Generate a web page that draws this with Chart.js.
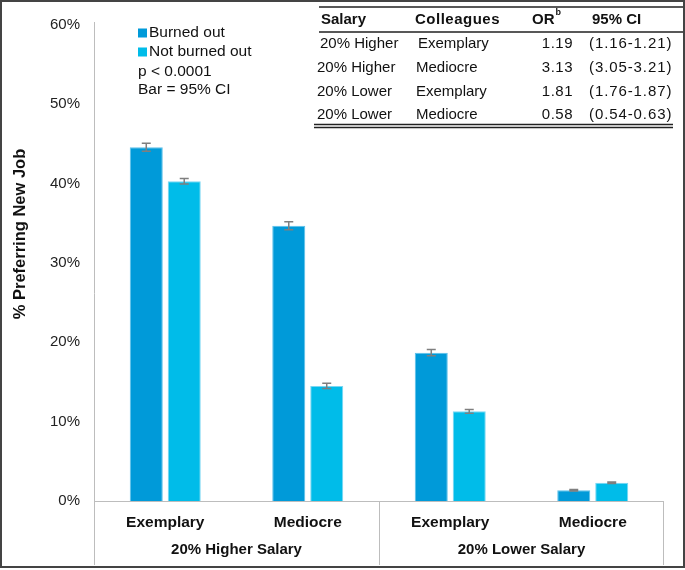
<!DOCTYPE html>
<html>
<head>
<meta charset="utf-8">
<script src="https://cdn.jsdelivr.net/npm/chart.js@4.4.1/dist/chart.umd.min.js"></script>
<style>
  html, body { margin: 0; padding: 0; background: #fff; }
  #wrap { width: 685px; height: 570px; }
</style>
</head>
<body>
<div id="wrap"><canvas id="chart" width="685" height="570"></canvas></div>
<script>
// Data
const categories = ['Exemplary', 'Mediocre', 'Exemplary', 'Mediocre'];
const groupLabels = ['20% Higher Salary', '20% Lower Salary'];
const seriesNames = ['Burned out', 'Not burned out'];
const burnedOut = [44.6, 34.7, 18.7, 1.35];
const notBurnedOut = [40.3, 14.5, 11.3, 2.3];
const burnedOutLow = [44.1, 34.2, 18.3, 1.25];
const burnedOutHigh = [45.1, 35.2, 19.1, 1.45];
const notBurnedOutLow = [39.95, 14.17, 11.07, 2.2];
const notBurnedOutHigh = [40.65, 14.83, 11.53, 2.4];
const yTicks = [0, 10, 20, 30, 40, 50, 60];
const notes = ['p < 0.0001', 'Bar = 95% CI'];

// inset table
const tableHeader = ['Salary', 'Colleagues', 'OR', '95% CI'];
const tableSalary = ['20% Higher', '20% Higher', '20% Lower', '20% Lower'];
const tableColleagues = ['Exemplary', 'Mediocre', 'Exemplary', 'Mediocre'];
const tableOR = ['1.19', '3.13', '1.81', '0.58'];
const tableCI = ['(1.16-1.21)', '(3.05-3.21)', '(1.76-1.87)', '(0.54-0.63)'];

const FONT = '"Liberation Sans", Arial, sans-serif';
const darkBlue = '#009ad9';
const lightBlue = '#00bce9';
const axisGrey = '#bdbdbd';

const errorBars = [
    { low: burnedOutLow, high: burnedOutHigh },
    { low: notBurnedOutLow, high: notBurnedOutHigh }
];

const decorPlugin = {
    id: 'decor',
    afterDraw(chart) {
        const ctx = chart.ctx;
        const area = chart.chartArea;
        const x = chart.scales.x;
        const y = chart.scales.y;
        const bottom = 565;

        ctx.save();

        // axes and group dividers
        ctx.strokeStyle = axisGrey;
        ctx.lineWidth = 1;
        ctx.beginPath();
        ctx.moveTo(area.left + 0.5, area.top - 3);
        ctx.lineTo(area.left + 0.5, bottom);
        ctx.moveTo(area.left, y.getPixelForValue(0) + 0.5);
        ctx.lineTo(area.right, y.getPixelForValue(0) + 0.5);
        const mid = (x.getPixelForValue(1) + x.getPixelForValue(2)) / 2;
        ctx.moveTo(Math.round(mid) + 0.5, y.getPixelForValue(0));
        ctx.lineTo(Math.round(mid) + 0.5, bottom);
        ctx.moveTo(area.right - 0.5, y.getPixelForValue(0));
        ctx.lineTo(area.right - 0.5, bottom);
        ctx.stroke();

        // error bars
        ctx.strokeStyle = '#7f7f7f';
        ctx.lineWidth = 1.5;
        errorBars.forEach((eb, di) => {
            const meta = chart.getDatasetMeta(di);
            meta.data.forEach((bar, i) => {
                const yl = y.getPixelForValue(eb.low[i]);
                const yh = y.getPixelForValue(eb.high[i]);
                ctx.beginPath();
                ctx.moveTo(bar.x, yl);
                ctx.lineTo(bar.x, yh);
                ctx.moveTo(bar.x - 4.5, yl);
                ctx.lineTo(bar.x + 4.5, yl);
                ctx.moveTo(bar.x - 4.5, yh);
                ctx.lineTo(bar.x + 4.5, yh);
                ctx.stroke();
            });
        });

        // group labels
        ctx.fillStyle = '#111';
        ctx.font = 'bold 15px ' + FONT;
        ctx.textAlign = 'center';
        ctx.textBaseline = 'middle';
        groupLabels.forEach((g, gi) => {
            const cx = (x.getPixelForValue(gi * 2) + x.getPixelForValue(gi * 2 + 1)) / 2;
            ctx.fillText(g, cx, 550);
        });

        // y title
        ctx.save();
        ctx.translate(20, 234);
        ctx.rotate(-Math.PI / 2);
        ctx.font = 'bold 16.5px ' + FONT;
        ctx.fillText('% Preferring New Job', 0, 0);
        ctx.restore();

        // legend and notes
        ctx.textAlign = 'left';
        ctx.font = '15.5px ' + FONT;
        const colors = [darkBlue, lightBlue];
        seriesNames.forEach((name, i) => {
            const ly = 33 + i * 19;
            ctx.fillStyle = colors[i];
            ctx.fillRect(138, ly - 4.5, 9, 9);
            ctx.fillStyle = '#111';
            ctx.fillText(name, 149, ly);
        });
        notes.forEach((t, i) => ctx.fillText(t, 138, 72 + i * 17.5));

        // inset table
        ctx.strokeStyle = '#222';
        ctx.lineWidth = 1.5;
        ctx.beginPath();
        ctx.moveTo(319, 7); ctx.lineTo(684, 7);
        ctx.moveTo(319, 32); ctx.lineTo(684, 32);
        ctx.moveTo(314, 124.5); ctx.lineTo(673, 124.5);
        ctx.moveTo(314, 127.5); ctx.lineTo(673, 127.5);
        ctx.stroke();

        ctx.font = 'bold 15px ' + FONT;
        ctx.fillStyle = '#111';
        ctx.fillText(tableHeader[0], 321, 20);
        ctx.letterSpacing = '0.5px';
        ctx.fillText(tableHeader[1], 415, 20);
        ctx.letterSpacing = '0px';
        ctx.fillText(tableHeader[2], 532, 20);
        const orW = ctx.measureText(tableHeader[2]).width;
        ctx.fillText(tableHeader[3], 592, 20);
        ctx.font = 'bold 9px ' + FONT;
        ctx.fillText('b', 532 + orW + 1, 13);

        ctx.font = '15px ' + FONT;
        const rowY = [44, 68, 92, 115];
        tableSalary.forEach((s, i) => {
            ctx.textAlign = 'left';
            ctx.letterSpacing = '0px';
            ctx.fillText(s, i === 0 ? 320 : 317, rowY[i]);
            ctx.fillText(tableColleagues[i], i === 0 ? 418 : 416, rowY[i]);
            ctx.textAlign = 'right';
            ctx.letterSpacing = '0.5px';
            ctx.fillText(tableOR[i], 573, rowY[i]);
            ctx.textAlign = 'left';
            ctx.letterSpacing = '0.9px';
            ctx.fillText(tableCI[i], 589, rowY[i]);
        });
        ctx.letterSpacing = '0px';

        // outer frame
        ctx.strokeStyle = '#444';
        ctx.lineWidth = 2;
        ctx.strokeRect(1, 1, 683, 566);

        ctx.restore();
    }
};

new Chart(document.getElementById('chart'), {
    type: 'bar',
    data: {
        labels: categories,
        datasets: [
            {
                label: seriesNames[0],
                data: burnedOut,
                backgroundColor: darkBlue,
                borderColor: '#5cc0ea',
                borderWidth: 1,
                categoryPercentage: 0.533,
                barPercentage: 0.87
            },
            {
                label: seriesNames[1],
                data: notBurnedOut,
                backgroundColor: lightBlue,
                borderColor: '#7ad6f2',
                borderWidth: 1,
                categoryPercentage: 0.533,
                barPercentage: 0.87
            }
        ]
    },
    options: {
        responsive: false,
        animation: false,
        layout: { padding: { top: 25, right: 21, left: 0, bottom: 0 } },
        plugins: {
            legend: { display: false },
            tooltip: { enabled: false }
        },
        scales: {
            x: {
                grid: { display: false, drawTicks: false },
                border: { display: false },
                ticks: {
                    padding: 12,
                    color: '#111',
                    font: { family: FONT, size: 15.5, weight: 'bold' }
                },
                afterFit(scale) { scale.height = 69; }
            },
            y: {
                min: 0,
                max: 60,
                afterBuildTicks(scale) { scale.ticks = yTicks.map(v => ({ value: v })); },
                grid: { display: false, drawTicks: false },
                border: { display: false },
                ticks: {
                    padding: 14,
                    color: '#222',
                    font: { family: FONT, size: 15 },
                    callback: v => v + '%'
                },
                afterFit(scale) { scale.width = 94; }
            }
        }
    },
    plugins: [decorPlugin]
});
</script>
</body>
</html>
